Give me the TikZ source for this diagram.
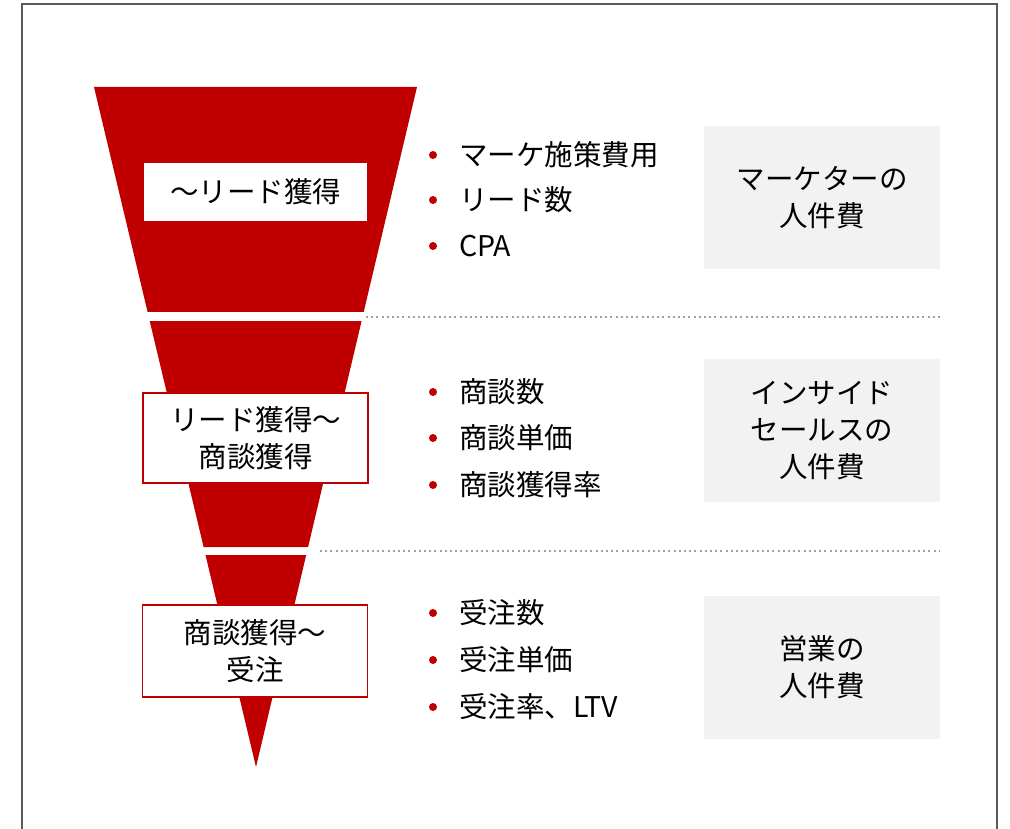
\documentclass[tikz,border=0pt]{standalone}
\usepackage{fontspec}
\setmainfont{Noto Sans CJK JP}
\definecolor{fred}{HTML}{C00000}
\definecolor{gbox}{HTML}{F2F2F2}
\definecolor{dotg}{HTML}{A0A0A0}
\definecolor{frameg}{HTML}{5A5A5A}
\tikzset{
  txt/.style={font=\fontsize{28.5}{37}\selectfont, text=black, align=center, inner sep=0pt},
  stagebox/.style={txt, fill=white, minimum width=225, minimum height=90},
  stageline/.style={stagebox, draw=fred, line width=1.3pt},
  costbox/.style={txt, fill=gbox, minimum width=236, minimum height=143},
  item/.style={font=\fontsize{28.5}{37}\selectfont, anchor=west, inner sep=0pt, text height=25pt, text depth=3.5pt},
  bul/.style={circle, fill=fred, inner sep=0pt, minimum size=8pt},
  sep/.style={dotg, line width=2, dash pattern=on 2 off 3.2}
}
\begin{document}
\begin{tikzpicture}[x=1pt,y=-1pt]
\useasboundingbox (0,0) rectangle (1010,829);
\fill[white] (0,0) rectangle (1010,829);
% frame
\draw[frameg, line width=2] (22,829) -- (22,4) -- (997,4) -- (997,829);
% funnel
\fill[fred] (94,87) -- (417,87) -- (363.7,312) -- (147.6,312) -- cycle;
\fill[fred] (149.7,321) -- (361.6,321) -- (308.1,547) -- (203.6,547) -- cycle;
\fill[fred] (205.5,555) -- (306.2,555) -- (256,767) -- cycle;
% separators
\coordinate (d1a) at (366,317); \coordinate (d1b) at (940,317);
\coordinate (d2a) at (320,551); \coordinate (d2b) at (940,551);
\draw[sep] (d1a) -- (d1b);
\draw[sep] (d2a) -- (d2b);
% stage boxes
\node[stagebox, minimum width=223, minimum height=58] (s1) at (255.5,192) {～リード獲得};
\node[stageline] (s2) at (255.5,438) {リード獲得～\\商談獲得};
\node[stageline, minimum height=92] (s3) at (255.2,651) {商談獲得～\\受注};
% cost boxes
\node[costbox] (c1) at (822,197.5) {マーケターの\\人件費};
\node[costbox] (c2) at (822,430.5) {インサイド\\セールスの\\人件費};
\node[costbox] (c3) at (822,667.5) {営業の\\人件費};
% bullet items
\node[bul] (b11) at (433,155) {}; \node[item] (t11) at (459,155) {マーケ施策費用};
\node[bul] (b12) at (433,200) {}; \node[item] (t12) at (459,200) {リード数};
\node[bul] (b13) at (433,246) {}; \node[item] (t13) at (459,246) {CPA};
\node[bul] (b21) at (433,392) {}; \node[item] (t21) at (459,392) {商談数};
\node[bul] (b22) at (433,438) {}; \node[item] (t22) at (459,438) {商談単価};
\node[bul] (b23) at (433,485) {}; \node[item] (t23) at (459,485) {商談獲得率};
\node[bul] (b31) at (433,613) {}; \node[item] (t31) at (459,613) {受注数};
\node[bul] (b32) at (433,660) {}; \node[item] (t32) at (459,660) {受注単価};
\node[bul] (b33) at (433,707) {}; \node[item] (t33) at (459,707) {受注率、LTV};
\end{tikzpicture}
\end{document}
